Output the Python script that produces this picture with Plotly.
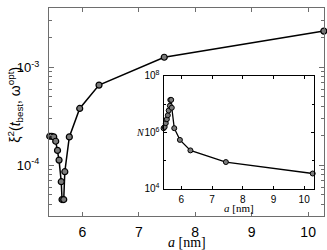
import plotly.graph_objects as go

# data
a_nm = [5.423, 5.458, 5.494, 5.529, 5.561, 5.588, 5.627, 5.641, 5.671, 5.690,
        5.770, 5.954, 6.296, 7.451, 10.278]
xi2 = [1.98e-4, 1.98e-4, 1.95e-4, 1.76e-4, 1.42e-4, 1.13e-4, 6.8e-5, 4.47e-5,
       4.47e-5, 8.6e-5, 1.95e-4, 3.81e-4, 6.6e-4, 1.27e-3, 2.35e-3]
N_vals = [1.4e6, 1.55e6, 2.1e6, 2.9e6, 4.0e6, 5.9e6, 8.7e6, 1.4e7,
          1.4e7, 7.4e6, 1.4e6, 5.4e5, 2.3e5, 8.9e4, 3.5e4]

x_ticks = [6, 7, 8, 9, 10]
y_ticks = [1e-4, 1e-3]
y_ticklabels = ["10<sup>-4</sup>", "10<sup>-3</sup>"]
y_minor = [4e-5, 5e-5, 6e-5, 7e-5, 8e-5, 9e-5, 2e-4, 3e-4, 4e-4, 5e-4, 6e-4,
           7e-4, 8e-4, 9e-4, 2e-3, 3e-3, 4e-3]
n_ticks = [1e4, 1e6, 1e8]
n_ticklabels = ["10<sup>4</sup>", "10<sup>6</sup>", "10<sup>8</sup>"]
n_minor = [1e5, 1e7]

SANS = "Liberation Sans, Arial, sans-serif"
SERIF = "Liberation Serif, Times New Roman, serif"

fig = go.Figure()
fig.add_trace(go.Scatter(
    x=a_nm, y=xi2, mode="lines+markers", xaxis="x", yaxis="y",
    line=dict(color="black", width=1.5),
    marker=dict(size=6, color="#7a7a7a", line=dict(color="black", width=1.2)),
    cliponaxis=False, showlegend=False))
fig.add_trace(go.Scatter(
    x=a_nm, y=N_vals, mode="lines+markers", xaxis="x2", yaxis="y2",
    line=dict(color="black", width=1.3),
    marker=dict(size=5, color="#7a7a7a", line=dict(color="black", width=1)),
    cliponaxis=False, showlegend=False))

L, R, T, B = 49, 3, 1, 34
W, H = 327, 250
pw, ph = W - L - R, H - T - B

def px_x(p):
    return (p - L) / pw

def px_y(p):
    return (H - B - p) / ph

main_line = "#6e6e6e"
fig.update_layout(
    width=W, height=H,
    margin=dict(l=L, r=R, t=T, b=B),
    paper_bgcolor="white", plot_bgcolor="white",
    showlegend=False,
    xaxis=dict(
        range=[5.410, 10.281], tickvals=x_ticks, ticks="inside", ticklen=4,
        tickcolor=main_line, showline=True, linecolor=main_line, linewidth=1,
        mirror="ticks", showgrid=False, zeroline=False,
        tickfont=dict(family=SANS, size=14, color="black"),
        ticklabelstandoff=3),
    yaxis=dict(
        type="log", range=[-4.518, -2.393], tickvals=y_ticks,
        ticktext=y_ticklabels, ticks="inside", ticklen=5,
        tickcolor=main_line, showline=True, linecolor=main_line, linewidth=1,
        mirror="ticks", showgrid=False, zeroline=False,
        tickfont=dict(family=SANS, size=13, color="black"),
        ticklabelstandoff=6,
        minor=dict(tickvals=y_minor, ticks="inside", ticklen=3,
                   tickcolor=main_line, showgrid=False)),
    xaxis2=dict(
        domain=[px_x(163.5), px_x(314)], anchor="y2",
        range=[5.42, 10.32], tickvals=x_ticks, ticks="inside", ticklen=3,
        tickcolor="black", showline=True, linecolor="black", linewidth=1,
        mirror="ticks", showgrid=False, zeroline=False,
        tickfont=dict(family=SANS, size=10, color="black"),
        ticklabelstandoff=1),
    yaxis2=dict(
        domain=[px_y(188), px_y(71)], anchor="x2", type="log",
        range=[4, 8], tickvals=n_ticks, ticktext=n_ticklabels,
        ticks="inside", ticklen=3, tickcolor="black",
        showline=True, linecolor="black", linewidth=1, mirror="ticks",
        showgrid=False, zeroline=False,
        tickfont=dict(family=SANS, size=10, color="black"),
        ticklabelstandoff=1,
        minor=dict(tickvals=n_minor, ticks="inside", ticklen=2,
                   tickcolor="black", showgrid=False)),
    annotations=[
        dict(text="ξ<sup>2</sup>(<i>t</i><sub>best</sub>, ω<sup>opt</sup>)",
             xref="paper", yref="paper", x=px_x(15), y=px_y(101),
             textangle=-90, showarrow=False,
             font=dict(family=SANS, size=14, color="black"),
             xanchor="center", yanchor="middle"),
        dict(text="<i>a</i> [nm]", xref="paper", yref="paper",
             x=px_x(187), y=px_y(243), showarrow=False,
             font=dict(family=SERIF, size=14, color="black"),
             xanchor="center", yanchor="middle"),
        dict(text="<i>a</i> [nm]", xref="paper", yref="paper",
             x=px_x(239), y=px_y(208), showarrow=False,
             font=dict(family=SERIF, size=11, color="black"),
             xanchor="center", yanchor="middle"),
        dict(text="<i>N</i>", xref="paper", yref="paper",
             x=px_x(140), y=px_y(130), showarrow=False,
             font=dict(family=SERIF, size=10, color="black"),
             xanchor="center", yanchor="middle"),
    ],
)

fig.write_html("out.html",
               config={"displayModeBar": False},
               post_script="document.body.style.margin='0';"
                           "document.body.style.overflow='hidden';")
